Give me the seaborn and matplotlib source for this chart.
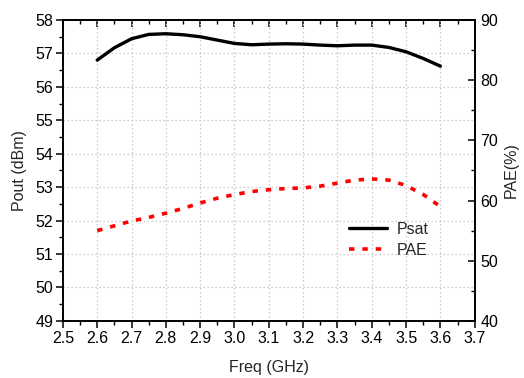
import matplotlib
matplotlib.use("Agg")
import matplotlib.pyplot as plt
import seaborn as sns
import pandas as pd
from matplotlib.ticker import MultipleLocator, FormatStrFormatter

freq = [2.60, 2.65, 2.70, 2.75, 2.80, 2.85, 2.90, 2.95, 3.00, 3.05, 3.10,
        3.15, 3.20, 3.25, 3.30, 3.35, 3.40, 3.45, 3.50, 3.55, 3.60]
psat = [56.80, 57.17, 57.44, 57.57, 57.59, 57.56, 57.50, 57.40, 57.30, 57.26, 57.28,
        57.29, 57.28, 57.25, 57.23, 57.25, 57.25, 57.18, 57.05, 56.85, 56.62]
pae = [55.0, 55.8, 56.6, 57.2, 57.9, 58.7, 59.6, 60.4, 61.0, 61.5, 61.8,
       62.0, 62.1, 62.4, 62.9, 63.4, 63.6, 63.4, 62.5, 61.0, 59.0]

sns.set_theme(style="white")
plt.rcParams['font.family'] = ['Liberation Sans', 'DejaVu Sans']

df = pd.DataFrame({"freq": freq, "psat": psat, "pae": pae})

fig = plt.figure(figsize=(5.24, 3.78), dpi=100)
ax = fig.add_axes([0.120, 0.151, 0.786, 0.796])
ax2 = ax.twinx()

sns.lineplot(data=df, x="freq", y="psat", ax=ax, color="black", linewidth=2.4, label="Psat", legend=False)
sns.lineplot(data=df, x="freq", y="pae", ax=ax2, color="red", linewidth=2.6, label="PAE", legend=False)
ax.lines[0].set_solid_joinstyle('round')
ax2.lines[0].set_linestyle((0, (1.5, 2.2)))

ax.set_xlim(2.5, 3.7)
ax.set_ylim(49, 58)
ax2.set_ylim(40, 90)

ax.xaxis.set_major_locator(MultipleLocator(0.1))
ax.xaxis.set_minor_locator(MultipleLocator(0.05))
ax.xaxis.set_major_formatter(FormatStrFormatter('%.1f'))
ax.yaxis.set_major_locator(MultipleLocator(1))
ax.yaxis.set_minor_locator(MultipleLocator(0.5))
ax2.yaxis.set_major_locator(MultipleLocator(10))
ax2.yaxis.set_minor_locator(MultipleLocator(5))

ax.grid(True, which='major', color='#c8c8c8', linestyle=(0, (1.2, 2.0)), linewidth=0.9)
ax2.grid(False)

for a in (ax, ax2):
    for s in a.spines.values():
        s.set_color('black')
        s.set_linewidth(1.2)

fs = 11.5
ax.tick_params(axis='x', which='both', direction='out', bottom=True, top=False, colors='black',
               labelsize=fs, pad=2)
ax.tick_params(axis='x', which='major', length=5, width=1.1)
ax.tick_params(axis='x', which='minor', length=3, width=1.0)
ax.tick_params(axis='y', which='both', direction='out', left=True, labelsize=fs, pad=2, colors='black')
ax.tick_params(axis='y', which='major', length=5, width=1.1)
ax.tick_params(axis='y', which='minor', length=3, width=1.0)
ax2.tick_params(axis='y', which='both', direction='in', right=True, labelsize=fs, pad=4, colors='black')
ax2.tick_params(axis='y', which='major', length=5, width=1.1)
ax2.tick_params(axis='y', which='minor', length=3, width=1.0)

# top ticks inward
secx = ax.secondary_xaxis('top')
secx.xaxis.set_major_locator(MultipleLocator(0.1))
secx.xaxis.set_minor_locator(MultipleLocator(0.05))
secx.tick_params(axis='x', which='both', direction='in', labeltop=False, colors='black')
secx.tick_params(axis='x', which='major', length=5, width=1.1)
secx.tick_params(axis='x', which='minor', length=3, width=1.0)
secx.spines['top'].set_linewidth(1.2)

ax.set_xlabel("Freq (GHz)", fontsize=fs, labelpad=10)
ax.set_ylabel("Pout (dBm)", fontsize=fs, labelpad=6)
ax2.set_ylabel("PAE(%)", fontsize=fs, labelpad=4)

h1, l1 = ax.get_legend_handles_labels()
h2, l2 = ax2.get_legend_handles_labels()
ax2.legend(h1 + h2, l1 + l2, loc='upper left', bbox_to_anchor=(0.678, 0.35),
           frameon=False, fontsize=fs, handlelength=2.4, handletextpad=0.6,
           labelspacing=0.35, borderaxespad=0)

fig.savefig("out.png", dpi=100)
